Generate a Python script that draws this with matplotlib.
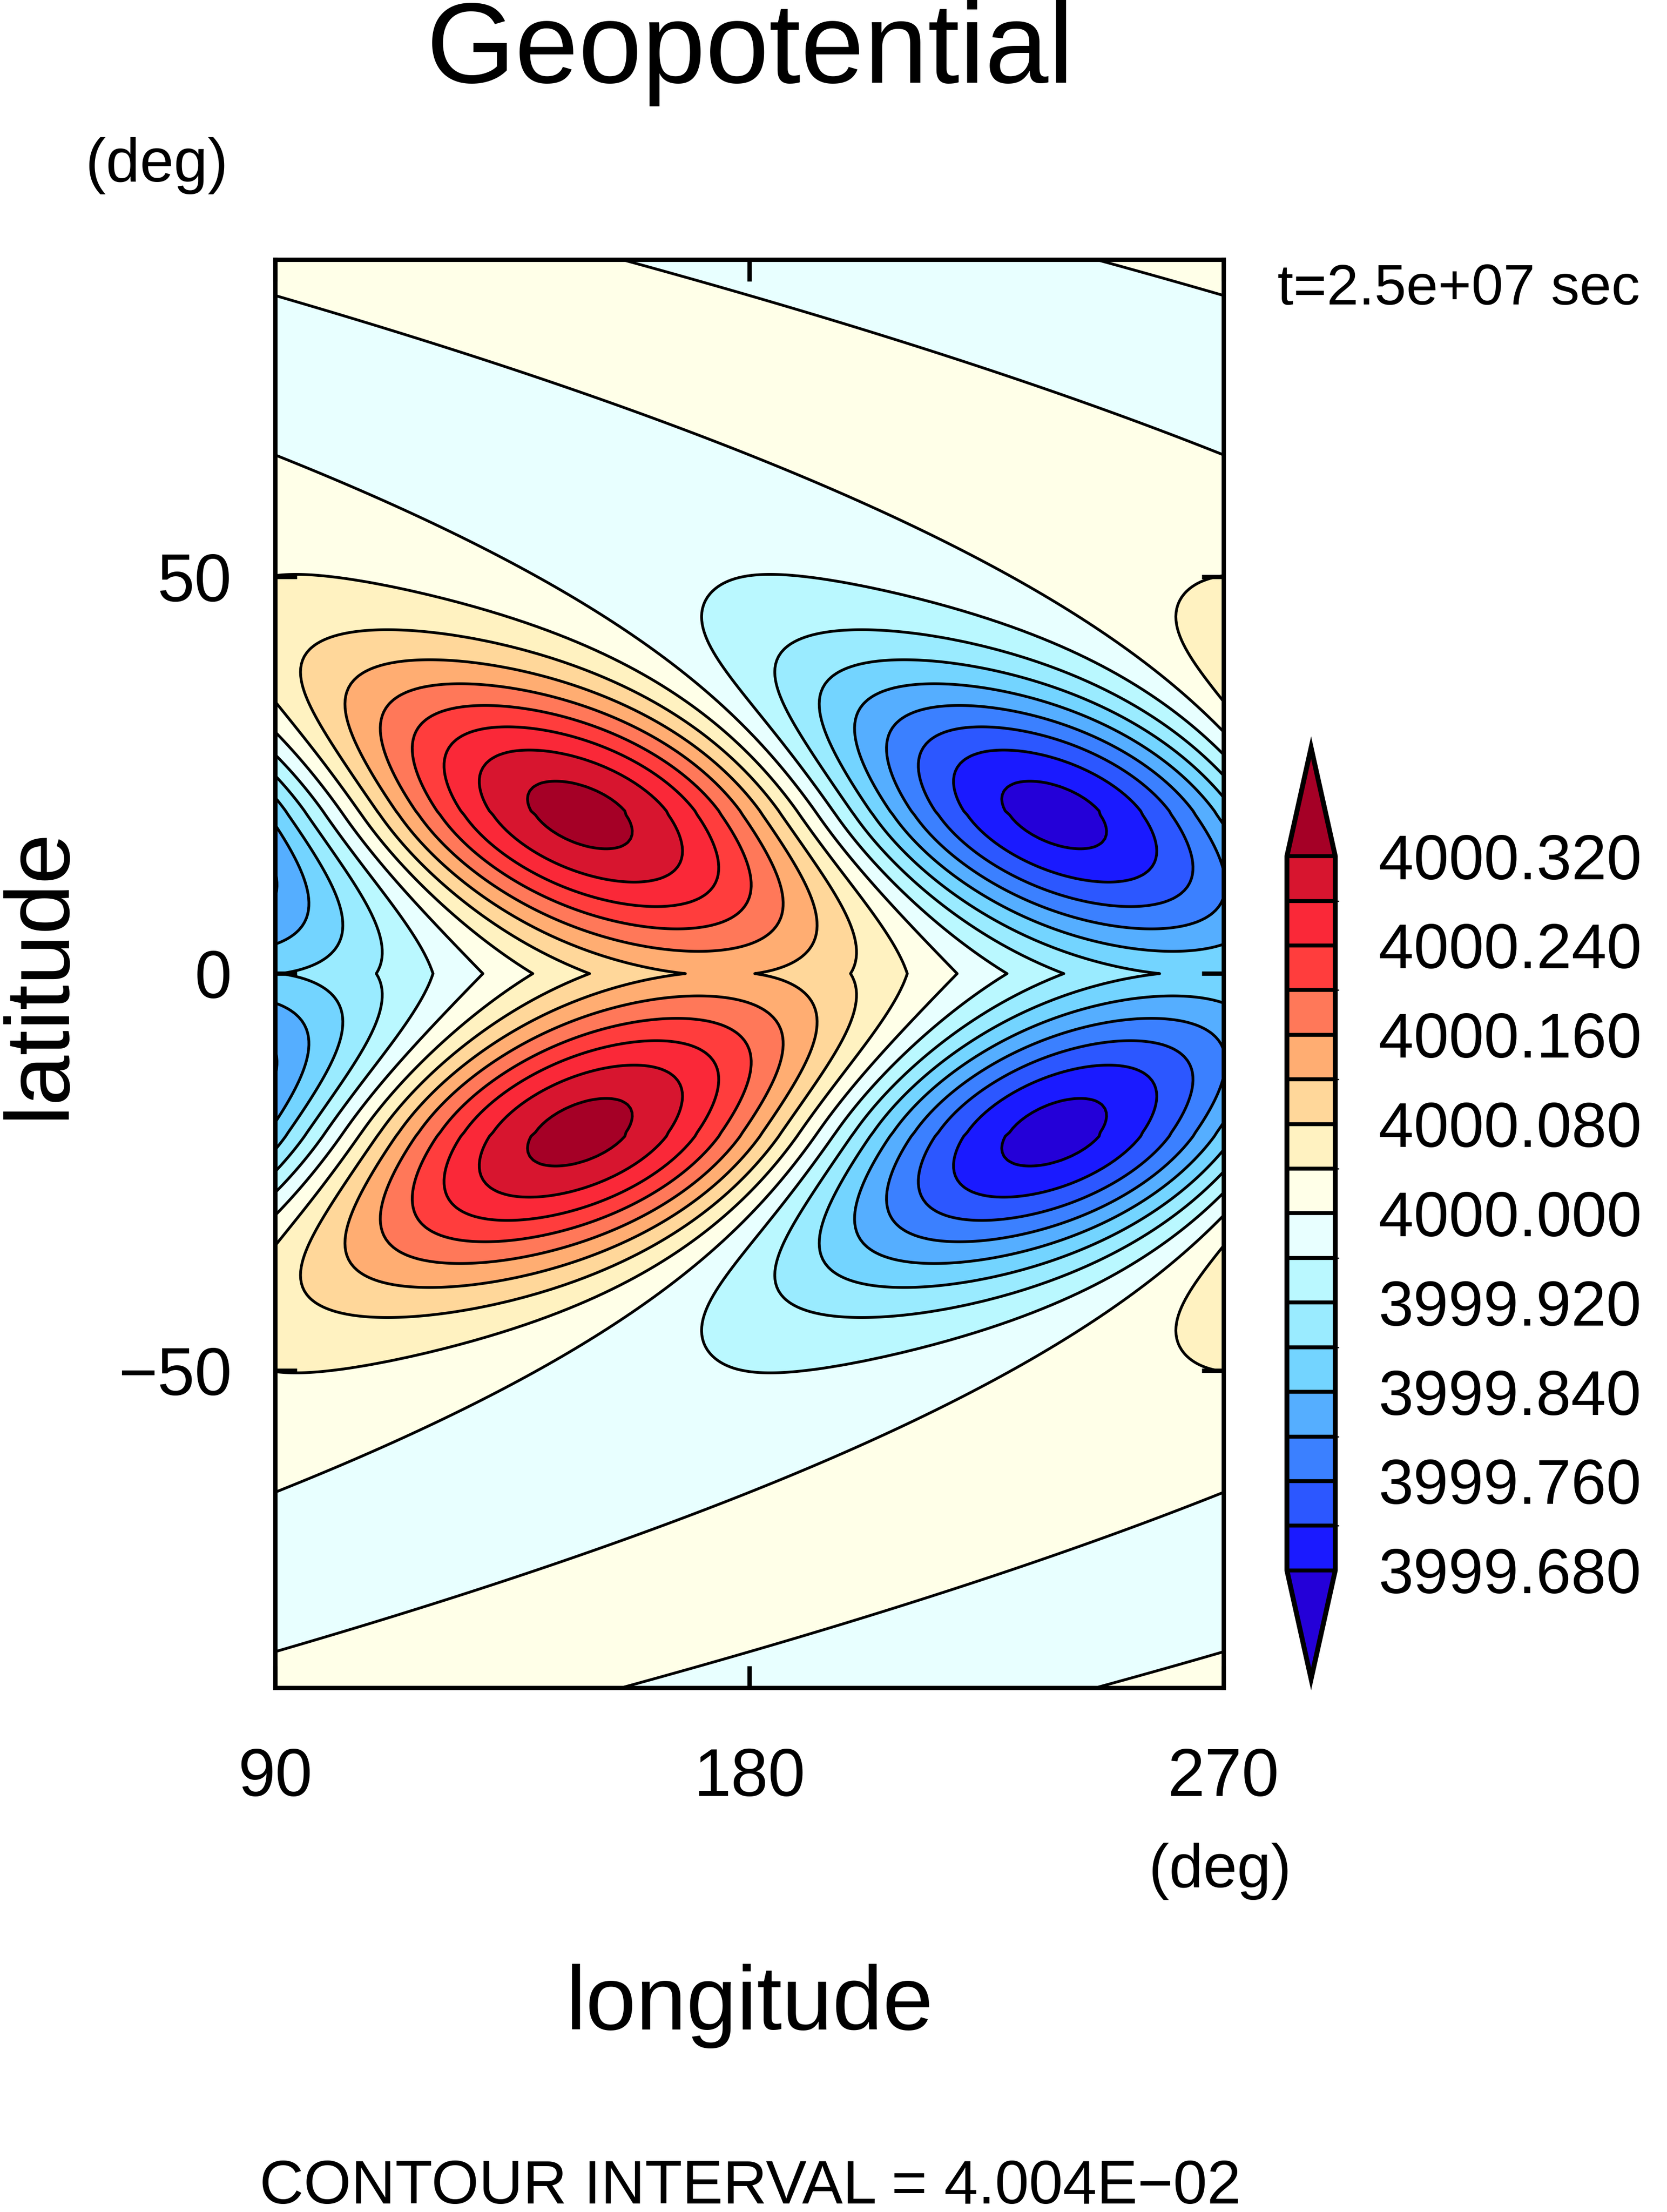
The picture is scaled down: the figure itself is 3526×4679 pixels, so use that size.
import numpy as np
import matplotlib
matplotlib.use("Agg")
import matplotlib.pyplot as plt
from matplotlib.colors import ListedColormap, BoundaryNorm

plt.rcParams['font.family'] = ['Liberation Sans', 'DejaVu Sans']

# --- values ---
base = 4000.0
levels = np.round(np.arange(3999.68, 4000.32 + 1e-9, 0.04), 3)
cbar_ticks = [3999.68, 3999.76, 3999.84, 3999.92, 4000.0, 4000.08, 4000.16, 4000.24, 4000.32]
box_colors = ["#1a1aff", "#2c57ff", "#3b80ff", "#55aeff", "#73d4ff", "#9aebff", "#baf8ff", "#e8ffff",
              "#ffffe8", "#fff2c1", "#ffd79a", "#ffad72", "#ff7859", "#ff3d3d", "#fa2838", "#d7152f"]
under_color = "#2400d8"
over_color = "#a50026"

# wave pattern: highs / lows near +-20 deg, ridge longitude tilts with |lat|
wave_amp = 0.335          # peak anomaly
wave_k = 2                # zonal wavenumber
peak_lat = 20.0
high_lon = 148.0          # ridge longitude at peak_lat
tilt_eq = 1.5             # deg lon per deg lat, equatorward of the highs
tilt_pole = 0.6           # deg lon per deg lat, just poleward of the highs
blend = 6.0               # deg lat over which the tilt changes
pole_bend = 0.035         # extra poleward bend (deg lon per deg lat^2)
width_in, width_out = 20.0, 19.0
floor_env = 0.09          # weak wave left at high latitudes

lon = np.linspace(90, 270, 361)
lat = np.linspace(-90, 90, 361)
LON, LAT = np.meshgrid(lon, lat)
alat = np.abs(LAT)
x = alat - peak_lat

soft = blend * (np.logaddexp(0, x / blend) - np.log(2))
phase = high_lon - tilt_eq * x - (tilt_pole - tilt_eq) * soft - pole_bend * np.clip(x, 0, None) ** 2
w = np.where(x < 0, width_in, width_out)
g = np.exp(-(x / w) ** 2)
env = np.where(x > 0, np.sqrt(g ** 2 + floor_env ** 2), g)
Z = base + wave_amp * env * np.cos(np.deg2rad(wave_k * (LON - phase)))

W, H = 3526, 4679
fig = plt.figure(figsize=(W / 300, H / 300), dpi=300)
ax = fig.add_axes([0.165, 0.237, 0.569, 0.6457])

cmap = ListedColormap(box_colors)
cmap.set_under(under_color)
cmap.set_over(over_color)
norm = BoundaryNorm(levels, cmap.N)
cf = ax.contourf(LON, LAT, Z, levels=levels, cmap=cmap, norm=norm, extend="both")
ax.contour(LON, LAT, Z, levels=levels, colors="black", linewidths=1.4)

ax.set_xlim(90, 270)
ax.set_ylim(-90, 90)
ax.set_xticks([90, 180, 270])
ax.set_yticks([-50, 0, 50])
ax.set_yticklabels(["\u221250", "0", "50"])
ax.tick_params(direction="in", length=11, width=2.2, labelsize=34, top=True, right=True)
ax.tick_params(axis="x", pad=30)
ax.tick_params(axis="y", pad=22)
for s in ax.spines.values():
    s.set_linewidth(2.2)
ax.set_xlabel("longitude", fontsize=46, labelpad=78)

fig.text(0.024, 0.56, "latitude", fontsize=46, rotation=90, ha="center", va="center")
fig.text(0.45, 0.976, "Geopotential", fontsize=58, ha="center", va="center")
fig.text(0.094, 0.925, "(deg)", fontsize=31, ha="center", va="center")
fig.text(0.875, 0.869, "t=2.5e+07 sec", fontsize=29, ha="center", va="center")
fig.text(0.732, 0.154, "(deg)", fontsize=31, ha="center", va="center")
fig.text(0.45, 0.011, "CONTOUR INTERVAL = 4.004E\u221202", fontsize=31, ha="center", va="center")

cax = fig.add_axes([0.772, 0.241, 0.029, 0.421])
cb = fig.colorbar(cf, cax=cax, ticks=cbar_ticks, extendfrac=0.152, drawedges=True)
cb.ax.set_yticklabels([f"{v:.3f}" for v in cbar_ticks])
cb.ax.tick_params(length=0, labelsize=32, pad=22)
cb.outline.set_linewidth(2.5)
cb.dividers.set_linewidth(2)

fig.savefig("out.png", dpi=300)
